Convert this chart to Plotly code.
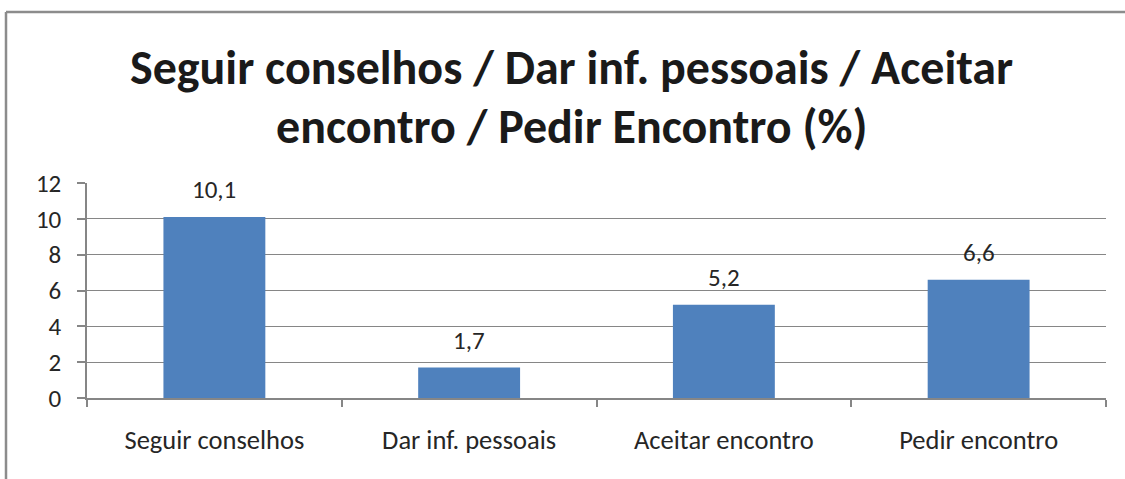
import plotly.graph_objects as go

categories = ["Seguir conselhos", "Dar inf. pessoais", "Aceitar encontro", "Pedir encontro"]
values = [10.1, 1.7, 5.2, 6.6]
value_labels = ["10,1", "1,7", "5,2", "6,6"]
y_ticks = [0, 2, 4, 6, 8, 10, 12]
title_lines = ["Seguir conselhos / Dar inf. pessoais / Aceitar", "encontro / Pedir Encontro (%)"]

W, H = 1125, 479
ml, mr, mt, mb = 87, 19, 183, 81
pw = W - ml - mr
ph = H - mt - mb
FONT = "Carlito, Calibri, Lato, sans-serif"

fig = go.Figure()
fig.add_trace(go.Bar(x=categories, y=values, marker=dict(color="#4F81BD", line=dict(width=0)),
                     width=0.4))

for c, v, t in zip(categories, values, value_labels):
    fig.add_annotation(x=c, y=v, text=t, showarrow=False, yanchor="bottom", yshift=10,
                       font=dict(family=FONT, size=25, color="#262626"))

for line, ypix in zip(title_lines, [68, 126]):
    fig.add_annotation(xref="paper", yref="paper", x=(571 - ml) / pw, y=1 + (mt - ypix) / ph,
                       xanchor="center", yanchor="middle", showarrow=False,
                       text="<b>" + line + "</b>",
                       font=dict(family=FONT, size=48, color="#1a1a1a"))

gray = "#868686"
fig.update_layout(
    width=W, height=H,
    margin=dict(l=ml, r=mr, t=mt, b=mb),
    paper_bgcolor="white", plot_bgcolor="white",
    showlegend=False,
    font=dict(family=FONT, size=26, color="#262626"),
    xaxis=dict(showline=True, linecolor=gray, linewidth=1.5, ticks="outside", tickson="boundaries",
               ticklen=7, tickcolor=gray, tickwidth=1.5, showgrid=False,
               tickfont=dict(size=26.5), ticklabelstandoff=17),
    yaxis=dict(range=[0, 12], tickvals=y_ticks, showline=True, linecolor=gray, linewidth=1.5,
               ticks="outside", ticklen=8, tickcolor=gray, tickwidth=1.5,
               showgrid=True, gridcolor=gray, gridwidth=1.3, zeroline=False,
               tickfont=dict(size=25), ticklabelstandoff=11),
)

# chart frame (left and top edges visible)
x0 = (6 - ml) / pw
x1 = (W + 10 - ml) / pw
ytop = 1 + (mt - 12) / ph
ybot = -(mb + 10) / ph
fig.add_shape(type="line", xref="paper", yref="paper", x0=x0, x1=x0, y0=ybot, y1=ytop,
              line=dict(color="#8c8c8c", width=2.5))
fig.add_shape(type="line", xref="paper", yref="paper", x0=x0, x1=x1, y0=ytop, y1=ytop,
              line=dict(color="#8c8c8c", width=2.5))

fig.write_html("out.html", config={"displayModeBar": False},
               post_script="document.body.style.margin='0';document.body.style.overflow='hidden';")
